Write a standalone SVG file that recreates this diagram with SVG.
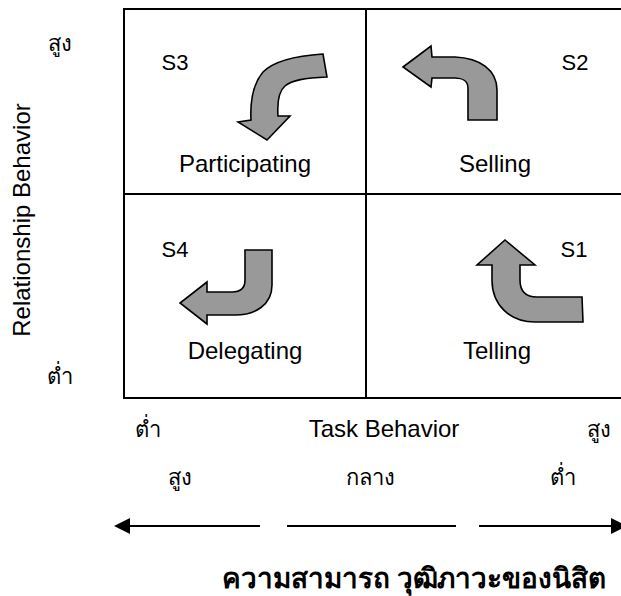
<svg xmlns="http://www.w3.org/2000/svg" width="621" height="596" viewBox="0 0 621 596">
<style>
  .lbl { font-family: "Liberation Sans", Arial, sans-serif; font-size: 24px; fill: #000; text-anchor: middle; }
  .s { font-family: "Liberation Sans", Arial, sans-serif; font-size: 22px; fill: #000; text-anchor: middle; }
  .th { font-family: "Liberation Sans", "Noto Sans", "DejaVu Sans", sans-serif; font-size: 22px; fill: #000; text-anchor: middle; }
  .thb { font-family: "Liberation Serif", "DejaVu Serif", serif; font-size: 28px; font-weight: bold; fill: #000; text-anchor: middle; }
  .grid { fill: none; stroke: #000; stroke-width: 2; }
  .barr { fill: #999999; stroke: #000; stroke-width: 1.6; stroke-linejoin: miter; }
  .axis { stroke: #000; stroke-width: 2.2; fill: none; }
</style>
<defs>
  <marker id="ah" viewBox="0 0 16 16" refX="2" refY="8" markerWidth="16" markerHeight="16" markerUnits="userSpaceOnUse" orient="auto">
    <path d="M0,0 L16,8 L0,16 Z" fill="#000"/>
  </marker>
</defs>
<rect width="621" height="596" fill="#fff"/>

<g id="grid">
  <rect class="grid" x="124" y="9" width="520" height="389"/>
  <line class="grid" x1="366" y1="9" x2="366" y2="398"/>
  <line class="grid" x1="124" y1="194" x2="625" y2="194"/>
</g>

<g id="axis-labels">
  <text class="lbl" transform="translate(30,220) rotate(-90)">Relationship Behavior</text>
  <text class="th" x="60" y="51">สูง</text>
  <text class="th" x="60" y="384">ต่ำ</text>
  <text class="th" x="148" y="437">ต่ำ</text>
  <text class="lbl" x="384" y="437">Task Behavior</text>
  <text class="th" x="599" y="437">สูง</text>
  <text class="th" x="180" y="485">สูง</text>
  <text class="th" x="370" y="485">กลาง</text>
  <text class="th" x="563" y="485">ต่ำ</text>
  <text class="thb" x="414" y="588" textLength="384" lengthAdjust="spacingAndGlyphs">ความสามารถ วุฒิภาวะของนิสิต</text>
</g>

<g id="q-s3">
  <text class="s" x="175" y="70">S3</text>
  <path class="barr" d="M323,54 C292,56 273,62 263,72 C253,84 250,100 251,120 L238,122 L267,140 L290,116 L278,116 C277,101 279,91 285,86 C292,80 305,78 327,77 Z"/>
  <text class="lbl" x="245" y="172">Participating</text>
</g>

<g id="q-s2">
  <text class="s" x="575" y="70">S2</text>
  <path class="barr" d="M403,67 L431,46 L432,57 L455,57 C480,58 497,70 497,90 L497,120 L468,120 L468,88 C468,81 462,78 455,78 L432,78 L431,87 Z"/>
  <text class="lbl" x="495" y="172">Selling</text>
</g>

<g id="q-s4">
  <text class="s" x="175" y="257">S4</text>
  <path class="barr" d="M245,250 L272,250 L272,285 C272,305 255,315 235,315 L207,315 L207,324 L180,303 L207,282 L207,292 L232,292 C240,292 245,288 245,280 Z"/>
  <text class="lbl" x="245" y="359">Delegating</text>
</g>

<g id="q-s1">
  <text class="s" x="574" y="257">S1</text>
  <path class="barr" d="M505,240 L535,265 L520,265 L520,280 C520,292 527,297 537,297 L582,297 L583,322 L535,322 C510,322 492,305 492,280 L492,265 L477,265 Z"/>
  <text class="lbl" x="497" y="359">Telling</text>
</g>

<g id="connectors">
  <line class="axis" x1="260" y1="526" x2="128" y2="526" marker-end="url(#ah)"/>
  <line class="axis" x1="287" y1="526" x2="456" y2="526"/>
  <line class="axis" x1="479" y1="526" x2="613" y2="526" marker-end="url(#ah)"/>
</g>
</svg>
